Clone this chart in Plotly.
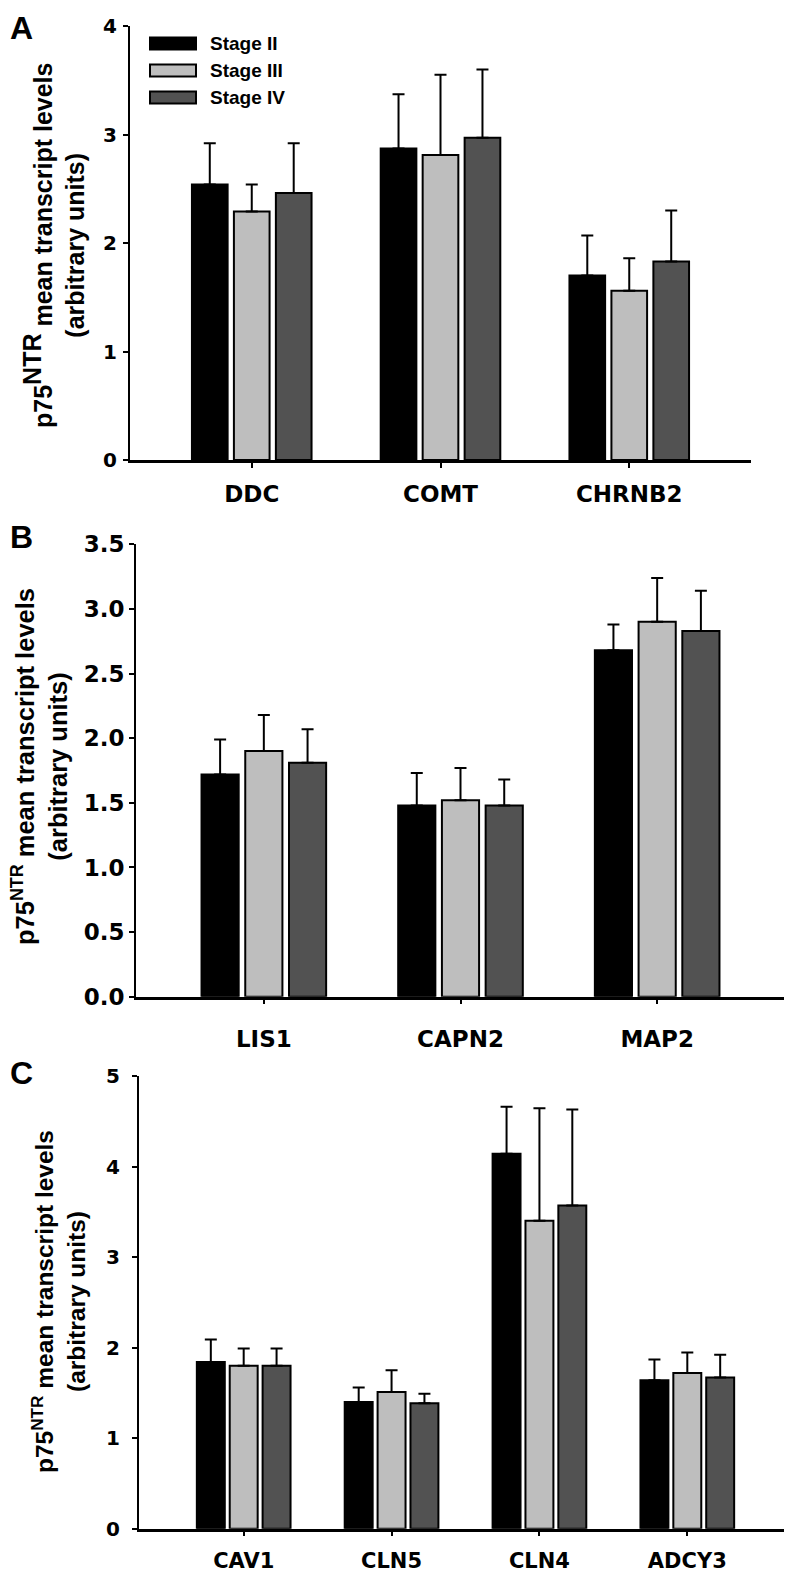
import plotly.graph_objects as go

# The page body adds an 8px margin, so the figure is drawn 8px in and 8px down.
OFF = 8
W, H = 792 - OFF, 1574 - OFF

# ---------------- data ----------------
series_names = ["Stage II", "Stage III", "Stage IV"]

categories_A = ["DDC", "COMT", "CHRNB2"]
stage2_A = [2.54, 2.87, 1.70]
stage3_A = [2.29, 2.81, 1.56]
stage4_A = [2.46, 2.97, 1.83]
err2_A = [0.38, 0.50, 0.37]
err3_A = [0.25, 0.74, 0.30]
err4_A = [0.46, 0.63, 0.47]

categories_B = ["LIS1", "CAPN2", "MAP2"]
stage2_B = [1.72, 1.48, 2.68]
stage3_B = [1.90, 1.52, 2.90]
stage4_B = [1.81, 1.48, 2.83]
err2_B = [0.27, 0.25, 0.20]
err3_B = [0.28, 0.25, 0.34]
err4_B = [0.26, 0.20, 0.31]

categories_C = ["CAV1", "CLN5", "CLN4", "ADCY3"]
stage2_C = [1.84, 1.40, 4.14, 1.64]
stage3_C = [1.80, 1.51, 3.40, 1.72]
stage4_C = [1.80, 1.385, 3.57, 1.67]
err2_C = [0.25, 0.16, 0.52, 0.23]
err3_C = [0.19, 0.24, 1.245, 0.225]
err4_C = [0.19, 0.105, 1.06, 0.25]

ticks_A = [0, 1, 2, 3, 4]
ticks_B = [0.0, 0.5, 1.0, 1.5, 2.0, 2.5, 3.0, 3.5]
ticks_C = [0, 1, 2, 3, 4, 5]

# ---------------- style ----------------
colors = ["#000000", "#BEBEBE", "#525252"]
FONT = "Liberation Sans, Arial, Helvetica, sans-serif"
TICKFONT = "DejaVu Sans, Liberation Sans, sans-serif"


def fx(x):
    return (x - OFF) / W


def fy(y):
    return 1 - (y - OFF) / H


panels = [
    dict(cats=categories_A, means=[stage2_A, stage3_A, stage4_A], errs=[err2_A, err3_A, err4_A],
         x0=130, x1=751, ytop=26, ybot=460, yrange=[0, 4], ticks=ticks_A, fmt="{:d}",
         xrange=[-0.645, 2.645], tfs=20, xfs=23, ystand=2, xstand=7,
         letter="A", ly=OFF, lanchor="top", lfs=32,
         title="p75<sup><span style='font-size:25px'>NTR</span></sup> mean transcript levels<br>(arbitrary units)",
         tx=53, ty=246, tfs_title=25),
    dict(cats=categories_B, means=[stage2_B, stage3_B, stage4_B], errs=[err2_B, err3_B, err4_B],
         x0=136, x1=785, ytop=544.3, ybot=996.7, yrange=[0, 3.5], ticks=ticks_B, fmt="{:.1f}",
         xrange=[-0.65, 2.65], tfs=23, xfs=23, ystand=0, xstand=15,
         letter="B", ly=537, lanchor="middle", lfs=32,
         title="p75<sup>NTR</sup> mean transcript levels<br>(arbitrary units)",
         tx=39, ty=767, tfs_title=25.5),
    dict(cats=categories_C, means=[stage2_C, stage3_C, stage4_C], errs=[err2_C, err3_C, err4_C],
         x0=139, x1=792, ytop=1076, ybot=1528.7, yrange=[0, 5], ticks=ticks_C, fmt="{:d}",
         xrange=[-0.708, 3.708], tfs=20, xfs=21, ystand=8, xstand=6,
         letter="C", ly=1073, lanchor="middle", lfs=32,
         title="p75<sup>NTR</sup> mean transcript levels<br>(arbitrary units)",
         tx=58, ty=1302, tfs_title=24.5),
]

fig = go.Figure()
annotations = []
shapes = []
layout_axes = {}

for i, p in enumerate(panels):
    sfx = "" if i == 0 else str(i + 1)
    xa, ya = "x" + sfx, "y" + sfx
    for s in range(3):
        fig.add_trace(go.Bar(
            x=p["cats"], y=p["means"][s], name=series_names[s],
            xaxis=xa, yaxis=ya, showlegend=False,
            marker=dict(color=colors[s], line=dict(color="#000000", width=2)),
            error_y=dict(type="data", array=p["errs"][s], symmetric=False,
                         arrayminus=[0] * len(p["cats"]), color="#000000",
                         thickness=2, width=6),
        ))
    layout_axes["xaxis" + sfx] = dict(
        domain=[fx(p["x0"]), min(1.0, fx(p["x1"]))], anchor=ya, range=p["xrange"],
        automargin=False,
        showline=True, linecolor="#000000", linewidth=2.5, ticks="outside",
        ticklen=5, tickwidth=2, tickcolor="#000000", showgrid=False, zeroline=False,
        ticklabelstandoff=p["xstand"],
        tickfont=dict(family=TICKFONT, size=p["xfs"], color="#000000", weight="bold"),
    )
    layout_axes["yaxis" + sfx] = dict(
        domain=[fy(p["ybot"]), fy(p["ytop"])], anchor=xa, range=p["yrange"],
        automargin=False,
        showline=True, linecolor="#000000", linewidth=2, ticks="outside",
        ticklen=5, tickwidth=2, tickcolor="#000000", showgrid=False, zeroline=False,
        tickvals=p["ticks"], ticktext=[p["fmt"].format(t) for t in p["ticks"]],
        ticklabelstandoff=p["ystand"],
        tickfont=dict(family=TICKFONT, size=p["tfs"], color="#000000", weight="bold"),
    )
    # panel letter
    annotations.append(dict(
        text=p["letter"], x=fx(OFF), y=fy(p["ly"]), xref="paper", yref="paper",
        xanchor="left", yanchor=p["lanchor"], showarrow=False,
        font=dict(family=FONT, size=p["lfs"], color="#000000", weight="bold"),
    ))
    # y-axis title
    annotations.append(dict(
        text=p["title"], x=fx(p["tx"]), y=fy(p["ty"]),
        xref="paper", yref="paper", xanchor="center", yanchor="middle",
        textangle=-90, showarrow=False,
        font=dict(family=FONT, size=p["tfs_title"], color="#000000", weight="bold"),
    ))

# legend (panel A, top-left)
legend_rows = [43.5, 70.5, 97.5]
for s in range(3):
    yc = legend_rows[s]
    shapes.append(dict(
        type="rect", xref="paper", yref="paper",
        x0=fx(150), x1=fx(196), y0=fy(yc + 6), y1=fy(yc - 6),
        fillcolor=colors[s], line=dict(color="#000000", width=2),
    ))
    annotations.append(dict(
        text=series_names[s], x=fx(208), y=fy(yc), xref="paper", yref="paper",
        xanchor="left", yanchor="middle", showarrow=False,
        font=dict(family=FONT, size=19, color="#000000", weight="bold"),
    ))

fig.update_layout(
    width=W, height=H, autosize=False,
    margin=dict(l=0, r=0, t=0, b=0, pad=0),
    paper_bgcolor="#FFFFFF", plot_bgcolor="#FFFFFF",
    barmode="group", bargap=0.333, bargroupgap=0.15,
    showlegend=False,
    annotations=annotations, shapes=shapes,
    **layout_axes,
)

fig.write_html("out.html")
